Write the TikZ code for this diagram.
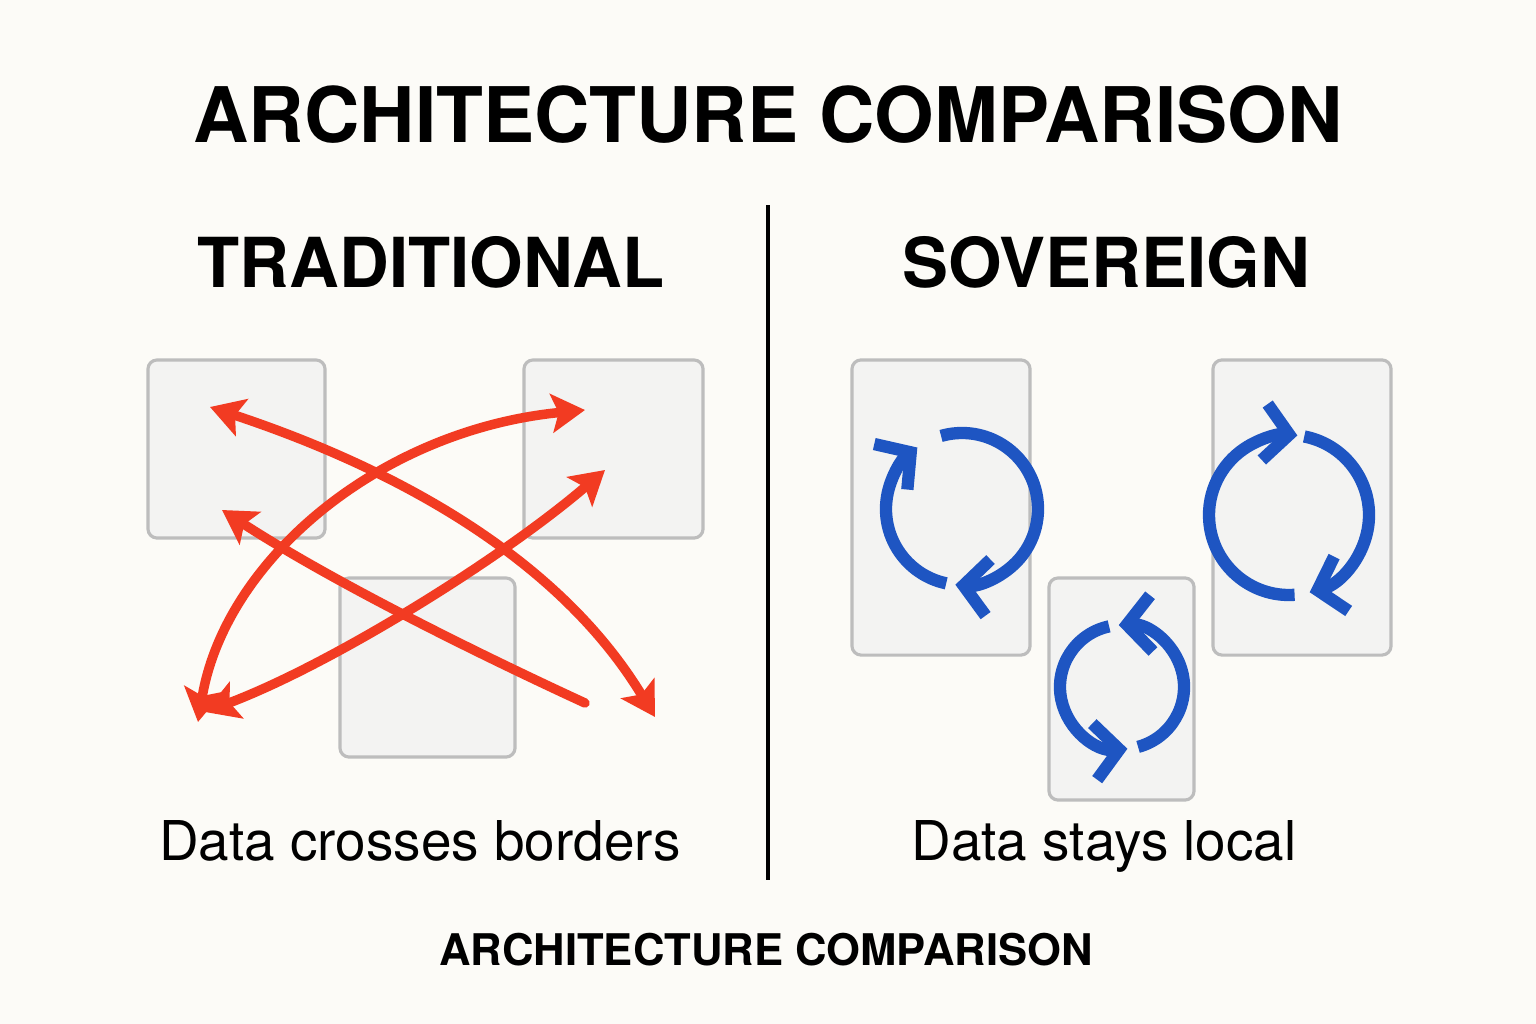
\documentclass[tikz,border=0pt]{standalone}
\usepackage{fontspec}
\setmainfont{TeX Gyre Heros}
\usetikzlibrary{arrows.meta}
\definecolor{bgcream}{HTML}{FCFBF7}
\definecolor{panelfill}{HTML}{F3F3F2}
\definecolor{panelline}{HTML}{BDBDBD}
\definecolor{flowred}{HTML}{F23B22}
\definecolor{cycleblue}{HTML}{1E55C2}

\begin{document}
\begin{tikzpicture}[x=0.01cm, y=-0.01cm, line join=round, line cap=round,
	panel/.style 2 args={draw=panelline, fill=panelfill, line width=0.9pt, rounded corners=2.6pt, minimum width=#1, minimum height=#2, inner sep=0pt},
	flow/.style={draw=flowred, line width=2.7pt},
	loopline/.style={draw=cycleblue, line width=3.5pt, line cap=butt, -{Straight Barb[length=7pt, width=16pt, line cap=butt, line join=miter]}},
	>={Stealth[length=9.5pt, width=11pt, inset=2pt]}]
	\fill[bgcream] (0,0) rectangle (1536,1024);
	\useasboundingbox (0,0) rectangle (1536,1024);
	% headings
	\node[anchor=base, font=\bfseries\fontsize{21.8}{26}\selectfont] (title) at (768,143) {ARCHITECTURE COMPARISON};
	\node[anchor=base, font=\bfseries\fontsize{19.6}{24}\selectfont] (trad) at (431,287) {TRADITIONAL};
	\node[anchor=base, font=\bfseries\fontsize{19.6}{24}\selectfont] (sov) at (1106,287) {SOVEREIGN};
	\node[anchor=base, font=\fontsize{15.6}{19}\selectfont] (tradnote) at (420,860) {Data crosses borders};
	\node[anchor=base, font=\fontsize{15.6}{19}\selectfont] (sovnote) at (1104,860) {Data stays local};
	\node[anchor=base, font=\bfseries\fontsize{12.4}{15}\selectfont] (caption) at (766,965) {ARCHITECTURE COMPARISON};
	\coordinate (top) at (768,205);
	\coordinate (bot) at (768,880);
	\draw[line width=1pt, line cap=butt] (top)--(bot);
	% panels
	\foreach \x/\y/\w/\h/\t in {236.5/449/1.77/1.78/A,613.5/449/1.79/1.78/B,427.5/667.5/1.75/1.79/C,941/507.5/1.78/2.95/D,1302/507.5/1.78/2.95/E,1121.5/689/1.45/2.22/F}
		\node[panel={\w cm}{\h cm}] (\t) at (\x,\y) {};
	% crossing flows
	\foreach \x/\y/\t in {210/407/P1,655/717/Q1,585/703/P2,222/510/Q2,198/722/P3,585/410/Q3,205/712/P4,605/470/Q4}
		\coordinate (\t) at (\x,\y);
	\draw[flow,<->] (P1) .. controls (400,470) and (560,560) .. (Q1);
	\draw[flow,->] (P2) .. controls (470,650) and (330,580) .. (Q2);
	\draw[flow,<->] (P3) .. controls (225,560) and (380,430) .. (Q3);
	\draw[flow,<->] (P4) .. controls (330,665) and (500,560) .. (Q4);
	% local loops
	\foreach \x/\y/\t in {962/509/L1,1289/515/L2,1122/687/L3}
		\coordinate (\t) at (\x,\y);
	\draw[loopline] (L1) ++(-106:76) arc[start angle=-106, end angle=95, radius=76];
	\draw[loopline] (L1) ++(-258:76) arc[start angle=-258, end angle=-126, radius=76];
	\draw[loopline] (L2) ++(-274:80) arc[start angle=-274, end angle=-84, radius=80];
	\draw[loopline] (L2) ++(-79:80) arc[start angle=-79, end angle=75, radius=80];
	\draw[loopline] (L3) ++(75:62) arc[start angle=75, end angle=-93, radius=62];
	\draw[loopline] (L3) ++(-102:62) arc[start angle=-102, end angle=-275, radius=62];
\end{tikzpicture}
\end{document}
